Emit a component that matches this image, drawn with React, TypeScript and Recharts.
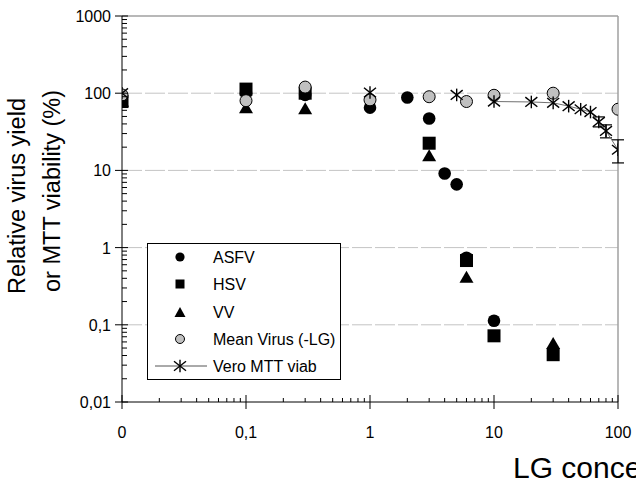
import React from 'react'
import { ScatterChart, Scatter, XAxis, YAxis, ReferenceLine, ErrorBar, Legend, Label } from 'recharts'

// axis ticks (0 on the x axis is drawn at 0.01 on the log scale)
const xMajor = [0.01, 0.1, 1, 10, 100]
const xLabels = ['0', '0,1', '1', '10', '100']
const yMajor = [0.01, 0.1, 1, 10, 100, 1000]
const yLabels = ['0,01', '0,1', '1', '10', '100', '1000']
const gridValues = [0.1, 1, 10, 100]
const minorSteps = [2, 3, 4, 5, 6, 7, 8, 9]

// series
const asfvConc = [0.01, 0.1, 0.3, 1, 2, 3, 4, 5, 6, 10]
const asfvYield = [90, 100, 95, 65, 88, 47, 9.1, 6.6, 0.74, 0.113]
const hsvConc = [0.01, 0.1, 0.3, 3, 6, 10, 30]
const hsvYield = [78, 113, 100, 22.5, 0.68, 0.072, 0.041]
const vvConc = [0.01, 0.1, 0.3, 3, 6, 30]
const vvYield = [80, 66, 64, 15.7, 0.42, 0.058]
const meanConc = [0.01, 0.1, 0.3, 1, 3, 6, 10, 30, 100]
const meanYield = [95, 80, 120, 82, 90, 78, 94, 100, 62]
const veroConc = [0.01, 1, 5, 10, 20, 30, 40, 50, 60, 70, 80, 100]
const veroViab = [100, 102, 95, 78, 77, 75, 68, 62, 57, 42.5, 32.5, 18.5]
// the fitted line is only drawn from 10 upward
const veroLineConc = [10, 20, 30, 40, 50, 60, 70, 80, 100]
const veroLineViab = [78, 77, 75, 68, 62, 57, 42.5, 32.5, 18.5]
const veroErrConc = [70, 80, 100]
const veroErrMid = [42.5, 32.5, 18.5]
const veroErrLow = [36.6, 26.4, 12.5]
const veroErrHigh = [49.3, 38.9, 24.9]

const legendNames = ['ASFV', 'HSV', 'VV', 'Mean Virus (-LG)', 'Vero MTT viab']

const FONT = '"Liberation Sans", Arial, sans-serif'

const toPoints = (xs: number[], ys: number[]) => xs.map((x, i) => ({ x, y: ys[i] }))
const withMinor = (majors: number[]) =>
  majors.flatMap((m, i) => (i < majors.length - 1 ? [m, ...minorSteps.map((k) => +(m * k).toPrecision(3))] : [m]))

const xTicks = withMinor(xMajor)
const yTicks = withMinor(yMajor)

const asfvData = toPoints(asfvConc, asfvYield)
const hsvData = toPoints(hsvConc, hsvYield)
const vvData = toPoints(vvConc, vvYield)
const meanData = toPoints(meanConc, meanYield)
const veroData = toPoints(veroConc, veroViab)
const veroLineData = toPoints(veroLineConc, veroLineViab)
const veroErrData = veroErrConc.map((x, i) => ({
  x,
  y: veroErrMid[i],
  err: [veroErrMid[i] - veroErrLow[i], veroErrHigh[i] - veroErrMid[i]],
}))

// marker shapes
const circle = (cx: number, cy: number, r: number, gray?: boolean) => (
  <circle cx={cx} cy={cy} r={r} fill={gray ? '#c0c0c0' : '#000'} stroke="#000" strokeWidth={gray ? 1 : 0} />
)
const square = (cx: number, cy: number, s: number) => <rect x={cx - s / 2} y={cy - s / 2} width={s} height={s} fill="#000" />
const triangle = (cx: number, cy: number, w: number, h: number) => (
  <polygon points={`${cx},${cy - h / 2} ${cx + w / 2},${cy + h / 2} ${cx - w / 2},${cy + h / 2}`} fill="#000" />
)
const star = (cx: number, cy: number, s: number) => (
  <g stroke="#000" strokeWidth={1.4}>
    <line x1={cx} y1={cy - s * 1.05} x2={cx} y2={cy + s * 1.05} />
    <line x1={cx - s} y1={cy - s * 0.8} x2={cx + s} y2={cy + s * 0.8} />
    <line x1={cx - s} y1={cy + s * 0.8} x2={cx + s} y2={cy - s * 0.8} />
  </g>
)

const XTick = (props: any) => {
  const { x, y, payload } = props
  const i = xMajor.indexOf(payload.value)
  if (i < 0) return <line x1={x} x2={x} y1={y} y2={y - 4} stroke="#000" />
  return (
    <g>
      <line x1={x} x2={x} y1={y - 7} y2={y + 7} stroke="#000" />
      <text x={x} y={y + 36} textAnchor="middle" fontSize={16} fontFamily={FONT} fill="#000">
        {xLabels[i]}
      </text>
    </g>
  )
}

const YTick = (props: any) => {
  const { x, y, payload } = props
  const i = yMajor.indexOf(payload.value)
  if (i < 0) return <line x1={x} x2={x + 5} y1={y} y2={y} stroke="#000" />
  return (
    <g>
      <line x1={x - 7} x2={x + 6} y1={y} y2={y} stroke="#000" />
      <text x={x - 11} y={y + 6} textAnchor="end" fontSize={16} fontFamily={FONT} fill="#000">
        {yLabels[i]}
      </text>
    </g>
  )
}

const renderYTitle = () => (
  <g>
    <text
      transform="translate(25, 196) rotate(-90)"
      textAnchor="middle"
      fontSize={23.5}
      fontFamily={FONT}
      fill="#000"
    >
      Relative virus yield
    </text>
    <text
      transform="translate(60, 191) rotate(-90)"
      textAnchor="middle"
      fontSize={23.5}
      fontFamily={FONT}
      fill="#000"
    >
      or MTT viability (%)
    </text>
  </g>
)

const renderXTitle = () => (
  <text x={513} y={478} fontSize={30} fontFamily={FONT} fill="#000">
    LG concentration (µg/ml)
  </text>
)

const renderLegend = () => {
  const rowY = [14, 41, 69, 96, 123]
  const mx = 33
  const marks = [
    circle(mx, rowY[0], 4.6),
    square(mx, rowY[1], 9),
    triangle(mx, rowY[2], 11, 10),
    circle(mx, rowY[3], 4.5, true),
    <g>
      <line x1={8} x2={60} y1={rowY[4]} y2={rowY[4]} stroke="#555" />
      {star(mx, rowY[4], 6)}
    </g>,
  ]
  return (
    <svg width={194} height={137} style={{ display: 'block' }}>
      <rect x={0.5} y={0.5} width={193} height={136} fill="#fff" stroke="#000" />
      {legendNames.map((name, i) => (
        <g key={name}>
          {marks[i]}
          <text x={66} y={rowY[i] + 6} fontSize={16} fontFamily={FONT} fill="#000">
            {name}
          </text>
        </g>
      ))}
    </svg>
  )
}

export default function App() {
  return (
    <div style={{ position: 'absolute', left: 0, top: 0, width: 636, height: 488, background: '#fff' }}>
      <ScatterChart width={636} height={488} margin={{ top: 16, right: 18, bottom: 56, left: 62 }}>
        <XAxis
          type="number"
          dataKey="x"
          scale="log"
          domain={[0.01, 100]}
          ticks={xTicks}
          interval={0}
          tick={<XTick />}
          tickLine={false}
          tickSize={0}
          tickMargin={0}
          height={30}
          allowDataOverflow
          axisLine={{ stroke: '#000' }}
        >
          <Label content={renderXTitle} />
        </XAxis>
        <YAxis
          type="number"
          dataKey="y"
          scale="log"
          domain={[0.01, 1000]}
          ticks={yTicks}
          interval={0}
          tick={<YTick />}
          tickLine={false}
          tickSize={0}
          tickMargin={0}
          width={60}
          allowDataOverflow
          axisLine={{ stroke: '#000' }}
        >
          <Label content={renderYTitle} />
        </YAxis>
        {gridValues.map((v) => (
          <ReferenceLine key={v} y={v} stroke="#c4c4c4" strokeDasharray="20 3" />
        ))}
        <ReferenceLine y={1000} stroke="#a0a0a0" strokeWidth={1.5} />
        <ReferenceLine x={100} stroke="#a0a0a0" strokeWidth={1.5} />
        <Scatter
          name="Vero fit"
          data={veroLineData}
          isAnimationActive={false}
          legendType="none"
          line={{ stroke: '#707070', strokeWidth: 1 }}
          lineType="joint"
          shape={() => <g />}
        />
        <Scatter
          name="ASFV"
          data={asfvData}
          isAnimationActive={false}
          shape={(p: any) => circle(p.cx, p.cy, 6.3)}
        />
        <Scatter name="HSV" data={hsvData} isAnimationActive={false} shape={(p: any) => square(p.cx, p.cy, 13)} />
        <Scatter name="VV" data={vvData} isAnimationActive={false} shape={(p: any) => triangle(p.cx, p.cy, 14, 12)} />
        <Scatter
          name="Mean Virus (-LG)"
          data={meanData}
          isAnimationActive={false}
          shape={(p: any) => circle(p.cx, p.cy, 6, true)}
        />
        <Scatter
          name="Vero MTT viab"
          data={veroData}
          isAnimationActive={false}
          shape={(p: any) => star(p.cx, p.cy, 6)}
        />
        <Scatter name="Vero error" data={veroErrData} isAnimationActive={false} legendType="none" shape={() => <g />}>
          <ErrorBar dataKey="err" direction="y" width={6} stroke="#000" strokeWidth={1.2} isAnimationActive={false} />
        </Scatter>
        <Legend
          layout="vertical"
          align="center"
          verticalAlign="middle"
          content={renderLegend}
          wrapperStyle={{ left: 147, top: 243, width: 194, height: 137 }}
        />
      </ScatterChart>
    </div>
  )
}
